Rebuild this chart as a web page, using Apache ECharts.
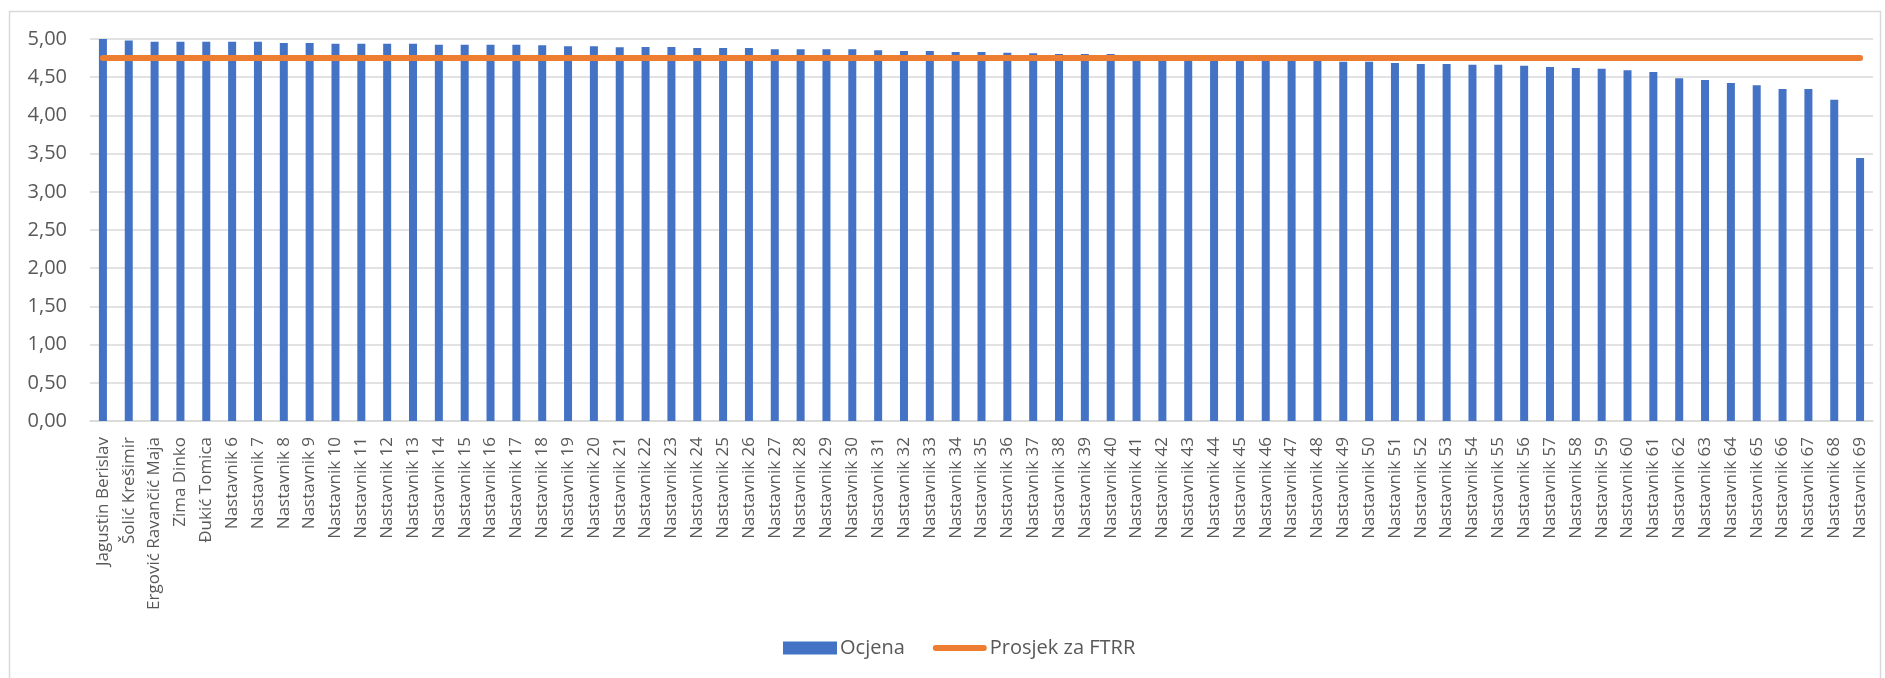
<!DOCTYPE html>
<html>
<head>
<meta charset="utf-8">
<script src="https://cdn.jsdelivr.net/npm/echarts@6/dist/echarts.min.js"></script>
<style>
  html, body { margin: 0; padding: 0; background: #ffffff; }
  #chart { width: 1885px; height: 678px; }
</style>
</head>
<body>
<div id="chart"></div>
<script>
const categories = [
  'Jagustin Berislav', 'Šolić Krešimir', 'Ergović Ravančić Maja', 'Zima Dinko', 'Đukić Tomica',
  'Nastavnik 6', 'Nastavnik 7', 'Nastavnik 8', 'Nastavnik 9', 'Nastavnik 10',
  'Nastavnik 11', 'Nastavnik 12', 'Nastavnik 13', 'Nastavnik 14', 'Nastavnik 15',
  'Nastavnik 16', 'Nastavnik 17', 'Nastavnik 18', 'Nastavnik 19', 'Nastavnik 20',
  'Nastavnik 21', 'Nastavnik 22', 'Nastavnik 23', 'Nastavnik 24', 'Nastavnik 25',
  'Nastavnik 26', 'Nastavnik 27', 'Nastavnik 28', 'Nastavnik 29', 'Nastavnik 30',
  'Nastavnik 31', 'Nastavnik 32', 'Nastavnik 33', 'Nastavnik 34', 'Nastavnik 35',
  'Nastavnik 36', 'Nastavnik 37', 'Nastavnik 38', 'Nastavnik 39', 'Nastavnik 40',
  'Nastavnik 41', 'Nastavnik 42', 'Nastavnik 43', 'Nastavnik 44', 'Nastavnik 45',
  'Nastavnik 46', 'Nastavnik 47', 'Nastavnik 48', 'Nastavnik 49', 'Nastavnik 50',
  'Nastavnik 51', 'Nastavnik 52', 'Nastavnik 53', 'Nastavnik 54', 'Nastavnik 55',
  'Nastavnik 56', 'Nastavnik 57', 'Nastavnik 58', 'Nastavnik 59', 'Nastavnik 60',
  'Nastavnik 61', 'Nastavnik 62', 'Nastavnik 63', 'Nastavnik 64', 'Nastavnik 65',
  'Nastavnik 66', 'Nastavnik 67', 'Nastavnik 68', 'Nastavnik 69'
];

const ocjena = [
  5.00, 4.98, 4.965, 4.965, 4.965,
  4.965, 4.965, 4.948, 4.948, 4.939,
  4.939, 4.939, 4.939, 4.926, 4.926,
  4.926, 4.926, 4.917, 4.904, 4.904,
  4.891, 4.895, 4.895, 4.882, 4.882,
  4.882, 4.865, 4.865, 4.865, 4.865,
  4.852, 4.843, 4.843, 4.830, 4.830,
  4.821, 4.812, 4.804, 4.804, 4.804,
  4.79, 4.78, 4.77, 4.76, 4.75,
  4.74, 4.73, 4.72, 4.703, 4.703,
  4.686, 4.673, 4.673, 4.664, 4.664,
  4.651, 4.634, 4.620, 4.612, 4.590,
  4.568, 4.485, 4.463, 4.424, 4.393,
  4.346, 4.346, 4.206, 3.442
];

const prosjek = [
  4.75, 4.75, 4.75, 4.75, 4.75, 4.75, 4.75, 4.75, 4.75, 4.75,
  4.75, 4.75, 4.75, 4.75, 4.75, 4.75, 4.75, 4.75, 4.75, 4.75,
  4.75, 4.75, 4.75, 4.75, 4.75, 4.75, 4.75, 4.75, 4.75, 4.75,
  4.75, 4.75, 4.75, 4.75, 4.75, 4.75, 4.75, 4.75, 4.75, 4.75,
  4.75, 4.75, 4.75, 4.75, 4.75, 4.75, 4.75, 4.75, 4.75, 4.75,
  4.75, 4.75, 4.75, 4.75, 4.75, 4.75, 4.75, 4.75, 4.75, 4.75,
  4.75, 4.75, 4.75, 4.75, 4.75, 4.75, 4.75, 4.75, 4.75
];

const seriesNames = ['Ocjena', 'Prosjek za FTRR'];
const yMin = 0, yMax = 5, yStep = 0.5;

const FONT = '"Open Sans", "Noto Sans", sans-serif';
const TEXT = '#595959';
const GRID = '#d9d9d9';
const BLUE = '#4472C4';
const ORANGE = '#ED7D31';

const chart = echarts.init(document.getElementById('chart'), null, { renderer: 'canvas' });
chart.setOption({
  animation: false,
  backgroundColor: '#ffffff',
  graphic: [{
    type: 'rect',
    left: 7, top: 9,
    shape: { width: 1871, height: 720 },
    style: { fill: 'none', stroke: '#d9d9d9', lineWidth: 1.5 },
    silent: true, z: -1
  }],
  grid: { left: 90, right: 12, top: 39, bottom: 257, containLabel: false },
  legend: {
    data: [
      { name: seriesNames[0], icon: 'rect', itemStyle: { color: BLUE } },
      {
        name: seriesNames[1],
        icon: 'path://M3,0 L53,0 A3,3 0 0 1 53,6 L3,6 A3,3 0 0 1 3,0 Z',
        itemStyle: { color: ORANGE, borderWidth: 0 },
        lineStyle: { width: 0, opacity: 0 }
      }
    ],
    left: 778, top: 633,
    itemWidth: 54, itemHeight: 13, itemGap: 28,
    symbolKeepAspect: true,
    textStyle: { fontFamily: FONT, fontSize: 20, color: TEXT, padding: [0, 0, 0, -2] }
  },
  xAxis: {
    type: 'category',
    data: categories,
    boundaryGap: true,
    axisLine: { show: true, lineStyle: { color: GRID, width: 1.5 } },
    axisTick: { show: false },
    axisLabel: {
      interval: 0, rotate: 90, margin: 16,
      fontFamily: FONT, fontSize: 17, color: TEXT
    }
  },
  yAxis: {
    type: 'value',
    min: yMin, max: yMax, interval: yStep,
    axisLine: { show: false },
    axisTick: { show: false },
    splitLine: { show: true, lineStyle: { color: GRID, width: 1.5 } },
    axisLabel: {
      margin: 23, fontFamily: FONT, fontSize: 20, color: TEXT,
      formatter: v => v.toFixed(2).replace('.', ',')
    }
  },
  series: [
    {
      name: seriesNames[0],
      type: 'bar',
      data: ocjena,
      barWidth: 8,
      itemStyle: { color: BLUE },
      z: 2
    },
    {
      name: seriesNames[1],
      type: 'line',
      data: prosjek,
      symbol: 'none',
      lineStyle: { color: ORANGE, width: 6, cap: 'round' },
      itemStyle: { color: ORANGE },
      z: 3
    }
  ]
});
</script>
</body>
</html>
